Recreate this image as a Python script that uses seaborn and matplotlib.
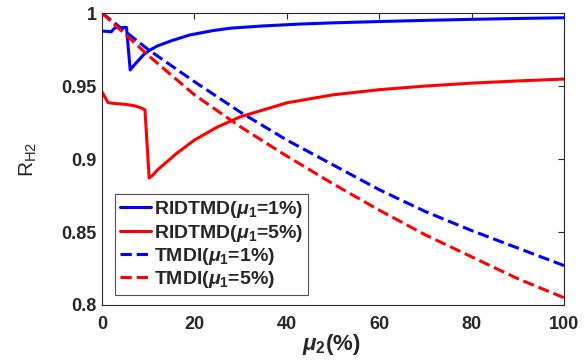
import numpy as np
import pandas as pd
import seaborn as sns
import matplotlib.pyplot as plt

## valores
mu2_rid1 = [0, 2.0, 2.8, 4.0, 5.3, 6.1, 7, 8, 9, 10.4, 12, 15, 19, 24, 28, 35, 43, 50, 60, 70, 80, 90, 100]
rh2_rid1 = [0.9877, 0.9872, 0.9900, 0.9900, 0.9902, 0.961, 0.9645, 0.968, 0.9715, 0.9747, 0.9775, 0.981,
            0.985, 0.9880, 0.9897, 0.9912, 0.9925, 0.9933, 0.9942, 0.9950, 0.9957, 0.9963, 0.9968]

mu2_rid5 = [0, 1.3, 3, 5, 7, 8.5, 9.3, 10.2, 11, 12, 14, 16, 20, 25, 30, 40, 50, 60, 70, 80, 90, 100]
rh2_rid5 = [0.946, 0.9386, 0.9380, 0.9375, 0.9365, 0.9350, 0.9336, 0.887, 0.889, 0.8925, 0.898, 0.9035,
            0.913, 0.922, 0.929, 0.9385, 0.9440, 0.9475, 0.9500, 0.9520, 0.9535, 0.9548]

mu2_tmdi = [0, 10, 20, 30, 40, 50, 60, 70, 80, 90, 100]
rh2_tmdi1 = [1.0, 0.975, 0.953, 0.932, 0.913, 0.896, 0.879, 0.864, 0.851, 0.839, 0.827]
rh2_tmdi5 = [1.0, 0.971, 0.944, 0.922, 0.902, 0.883, 0.865, 0.848, 0.833, 0.818, 0.805]

labels = ['RIDTMD($\\mu_1$=1%)', 'RIDTMD($\\mu_1$=5%)', 'TMDI($\\mu_1$=1%)', 'TMDI($\\mu_1$=5%)']

sns.set_style('white')
plt.rcParams['font.family'] = ['Liberation Sans', 'DejaVu Sans']
plt.rcParams['font.weight'] = 'bold'
plt.rcParams['mathtext.fontset'] = 'custom'
plt.rcParams['mathtext.rm'] = 'Liberation Sans:bold'
plt.rcParams['mathtext.it'] = 'Liberation Sans:italic:bold'
plt.rcParams['mathtext.bf'] = 'Liberation Sans:bold'

fig = plt.figure(figsize=(5.87, 3.63), dpi=100)
ax = fig.add_axes([0.1738, 0.1598, 0.7870, 0.8042])

series = [(mu2_rid1, rh2_rid1, 'blue', '-'),
          (mu2_rid5, rh2_rid5, 'red', '-'),
          (mu2_tmdi, rh2_tmdi1, 'blue', '--'),
          (mu2_tmdi, rh2_tmdi5, 'red', '--')]
for (x, y, c, ls), lab in zip(series, labels):
    df = pd.DataFrame({'mu2': x, 'rh2': y})
    sns.lineplot(data=df, x='mu2', y='rh2', color=c, linestyle=ls, linewidth=2.2,
                 label=lab, ax=ax, estimator=None)

ax.set_xlim(0, 100)
ax.set_ylim(0.8, 1.0)
ax.set_xticks([0, 20, 40, 60, 80, 100])
ax.set_yticks([0.8, 0.85, 0.9, 0.95, 1.0])
ax.set_yticklabels(['0.8', '0.85', '0.9', '0.95', '1'])
ax.tick_params(direction='in', length=4, width=0.8, color='#262626', labelsize=13,
               top=True, right=True, labelcolor='#262626')
ax.tick_params(axis='x', pad=8)
ax.tick_params(axis='y', pad=4)
for lab in ax.get_xticklabels() + ax.get_yticklabels():
    lab.set_fontweight('bold')
for s in ax.spines.values():
    s.set_color('#262626')
    s.set_linewidth(0.8)

ax.set_xlabel('$\\mu_2$(%)', fontsize=16, fontweight='bold', color='#262626')
ax.xaxis.set_label_coords(0.497, -0.094)
ax.set_ylabel('R$_{\\mathregular{H2}}$', fontsize=15, fontweight='normal', color='#262626')
ax.yaxis.set_label_coords(-0.137, 0.5)

leg = ax.legend(loc='lower left', bbox_to_anchor=(0.028, 0.034), fontsize=14, frameon=True,
                fancybox=False, edgecolor='#262626', handlelength=1.6, labelspacing=0.12,
                borderpad=0.25, handletextpad=0.15, borderaxespad=0)
leg.get_frame().set_linewidth(0.8)
for t in leg.get_texts():
    t.set_fontweight('bold')

plt.savefig('out.png', dpi=100)
